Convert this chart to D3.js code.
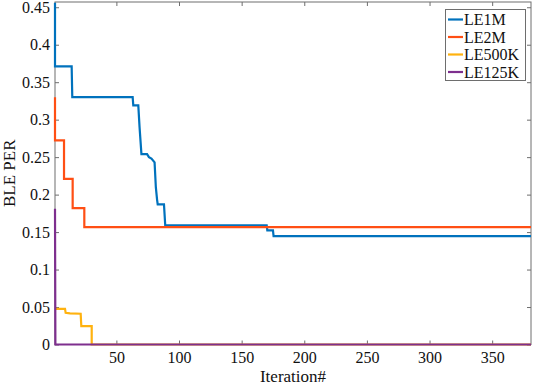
<!DOCTYPE html>
<html><head><meta charset="utf-8">
<script src="https://cdn.jsdelivr.net/npm/d3@7"></script>
<style>body{margin:0;background:#fff}svg{display:block}
text{font-family:"Liberation Serif","Times New Roman","DejaVu Serif",serif;}</style>
</head><body>
<svg id="c" width="533" height="389"></svg>
<script>
const seriesNames = ["LE1M", "LE2M", "LE500K", "LE125K"];
const seriesColors = ["#0072BD", "#FF4F14", "#FFB20F", "#7E2F8E"];
const le1mX = [1, 1, 14.3, 14.8, 63, 63.5, 67.5, 68.5, 70, 74.5, 76, 78, 80.5, 81.5, 82.5, 83, 88, 89, 170, 170.5, 175, 175.5, 381];
const le1mY = [0.456, 0.371, 0.371, 0.33, 0.33, 0.319, 0.319, 0.29, 0.254, 0.254, 0.25, 0.248, 0.243, 0.21, 0.193, 0.187, 0.187, 0.159, 0.159, 0.1524, 0.1524, 0.1445, 0.1445];
const le2mX = [1, 1, 8.2, 8.2, 15.1, 15.1, 24.4, 24.4, 381];
const le2mY = [0.33, 0.2724, 0.2724, 0.221, 0.221, 0.182, 0.182, 0.1567, 0.1567];
const le500kX = [1, 9, 9.5, 13, 21.5, 22, 30.3, 30.3, 381];
const le500kY = [0.0476, 0.0476, 0.0422, 0.0415, 0.041, 0.0244, 0.0244, 0, 0];
const le125kX = [1, 1.3, 381];
const le125kY = [0.181, 0, 0];
const xTicks = [50, 100, 150, 200, 250, 300, 350];
const yTicks = [0, 0.05, 0.1, 0.15, 0.2, 0.25, 0.3, 0.35, 0.4, 0.45];
const xDomain = [1, 381];
const yDomain = [0, 0.457];

const allX = [le1mX, le2mX, le500kX, le125kX];
const allY = [le1mY, le2mY, le500kY, le125kY];

const svg = d3.select("#c");
const L = 55, R = 531, T = 2, B = 344.5;
const x = d3.scaleLinear().domain(xDomain).range([L, R]);
const y = d3.scaleLinear().domain(yDomain).range([B, T]);
const font = '"Liberation Serif","Times New Roman","DejaVu Serif",serif';
const axisCol = "#6e6e6e";
const line = d3.line().x(d => x(d[0])).y(d => y(d[1]));

const ax = (g, axis) => {
  g.call(axis);
  g.attr("font-family", font);
  g.select(".domain").remove();
  g.selectAll("line").attr("stroke", axisCol);
  g.selectAll("text").style("font-family", font).attr("font-size", 16).attr("fill", "#111");
};
svg.append("g").attr("transform", `translate(0,${B})`)
  .call(g => ax(g, d3.axisBottom(x).tickValues(xTicks).tickSizeInner(-4).tickSizeOuter(0).tickPadding(7).tickFormat(d3.format("d"))));
svg.append("g").attr("transform", `translate(0,${T})`)
  .call(g => ax(g, d3.axisTop(x).tickValues(xTicks).tickSizeInner(-4).tickSizeOuter(0).tickFormat("")));
svg.append("g").attr("transform", `translate(${L},0)`)
  .call(g => ax(g, d3.axisLeft(y).tickValues(yTicks).tickSizeInner(-4).tickSizeOuter(0).tickPadding(5).tickFormat(d => d === 0 ? "0" : String(+d.toFixed(2)))));
svg.append("g").attr("transform", `translate(${R},0)`)
  .call(g => ax(g, d3.axisRight(y).tickValues(yTicks).tickSizeInner(-4).tickSizeOuter(0).tickFormat("")));

svg.append("rect").attr("x", L).attr("y", T).attr("width", R - L).attr("height", B - T)
  .attr("fill", "none").attr("stroke", axisCol).attr("stroke-width", 1);

// series
allX.forEach((xs, i) => {
  const pts = xs.map((v, j) => [v, allY[i][j]]);
  svg.append("path").attr("d", line(pts)).attr("fill", "none")
    .attr("stroke", seriesColors[i]).attr("stroke-width", 2.2)
    .attr("stroke-linejoin", "miter");
});

// labels
svg.append("text").attr("x", (L + R) / 2).attr("y", 382).attr("text-anchor", "middle")
  .style("font-family", font).attr("font-size", 17).attr("fill", "#111").text("Iteration#");
svg.append("text").attr("transform", `translate(15,${(T + B) / 2}) rotate(-90)`).attr("text-anchor", "middle")
  .style("font-family", font).attr("font-size", 17).attr("fill", "#111").text("BLE PER");

// legend
const lg = svg.append("g");
lg.append("rect").attr("x", 445.5).attr("y", 9.5).attr("width", 80).attr("height", 71)
  .attr("fill", "#fff").attr("stroke", axisCol).attr("stroke-width", 1);
seriesNames.forEach((n, i) => {
  const yy = 19.5 + i * 17.5;
  lg.append("line").attr("x1", 448).attr("x2", 463).attr("y1", yy).attr("y2", yy)
    .attr("stroke", seriesColors[i]).attr("stroke-width", 2.2);
  lg.append("text").attr("x", 464).attr("y", yy).attr("dy", "0.35em")
    .style("font-family", font).attr("font-size", 16).attr("fill", "#111").text(n);
});
</script>
</body></html>
